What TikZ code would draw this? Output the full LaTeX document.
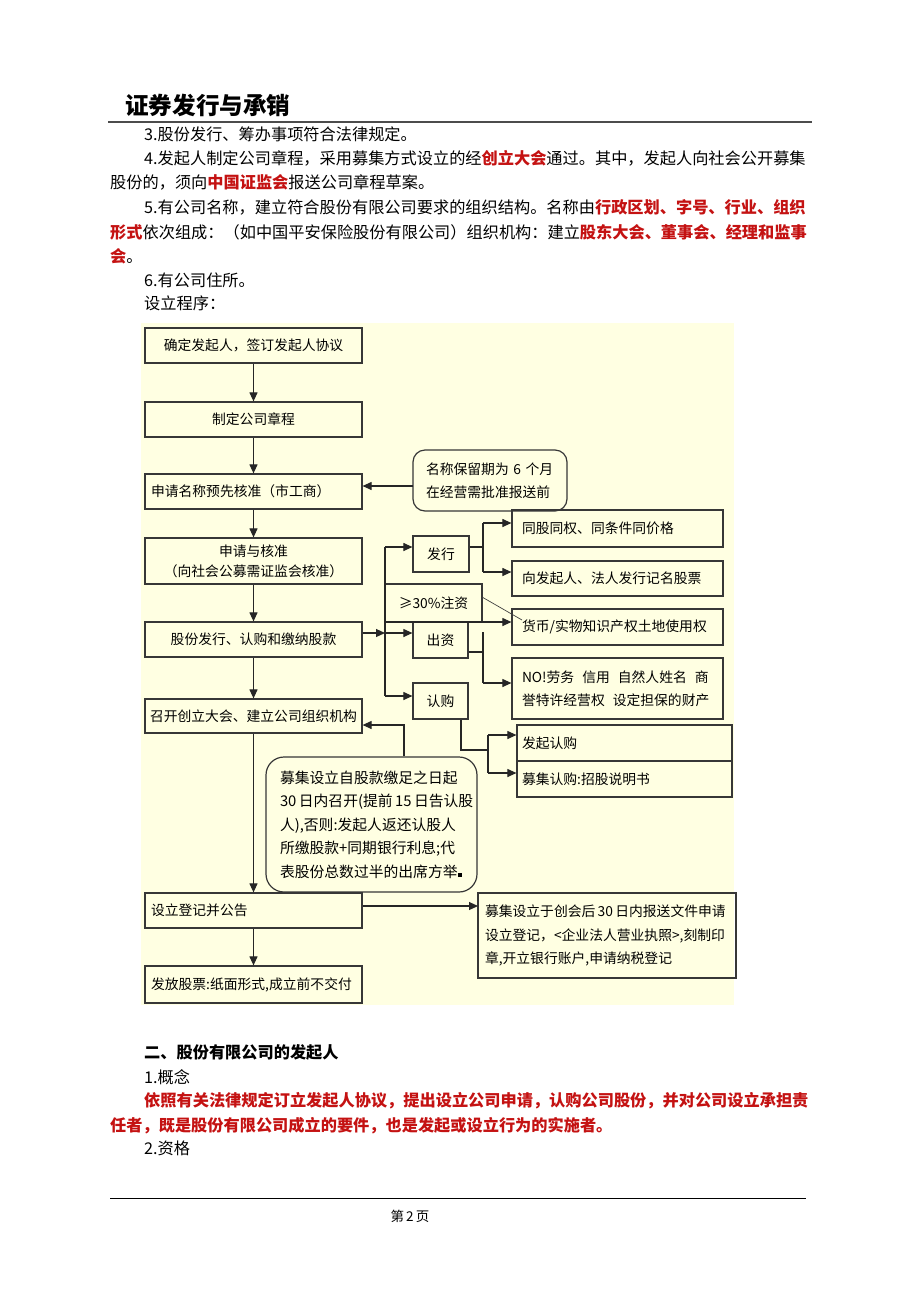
\documentclass[tikz,border=0pt]{standalone}
\usepackage{fontspec}
\setmainfont{Noto Sans CJK SC}
\usetikzlibrary{arrows.meta}
\definecolor{hired}{RGB}{196,18,18}
\definecolor{chartbg}{RGB}{255,255,226}
\definecolor{boxline}{RGB}{55,55,55}
\newcommand{\redbf}[1]{{\bfseries\color{hired}#1}}
\newcommand{\bodysize}{\fontsize{16.2}{16.2}\selectfont}

\begin{document}
\begin{tikzpicture}[
  x=1pt, y=-1pt,
  >={Triangle[length=9pt,width=8pt]},
  bodyline/.style={anchor=west, inner sep=0pt, font=\bodysize},
  mainbox/.style={draw=boxline, line width=1.2pt, inner xsep=6pt, inner ysep=0pt,
                  text width=205pt, minimum height=35pt, align=center,
                  font=\fontsize{13.8}{20}\selectfont},
  mainleft/.style={mainbox, align=left},
  sidebox/.style={draw=boxline, line width=1.2pt, inner xsep=10pt, inner ysep=0pt,
                  text width=191pt, minimum height=36pt, align=left,
                  font=\fontsize{13.8}{23}\selectfont},
  tagbox/.style={draw=boxline, line width=1.2pt, inner sep=0pt, minimum width=56pt,
                 minimum height=36pt, font=\fontsize{13.8}{16}\selectfont},
  notebox/.style={draw=boxline, line width=1.2pt, rounded corners=12pt, align=left,
                  inner ysep=0pt},
  arr/.style={->, line width=1.1pt, draw=black!85},
  ln/.style={line width=1.1pt, draw=black!85},
]
\useasboundingbox (0,0) rectangle (920,1302);
% ---- page header ----
\node[anchor=west, inner sep=0pt, font=\fontsize{23.6}{24}\selectfont\bfseries] (title) at (125,105) {证券发行与承销};
\draw[line width=2pt, draw=black!70] (108,122) -- (812,122);
% ---- body text ----
\node[bodyline] (p3) at (144,134) {3.股份发行、筹办事项符合法律规定。};
\node[bodyline] (p4a) at (144,158) {4.发起人制定公司章程，采用募集方式设立的经\redbf{创立大会}通过。其中，发起人向社会公开募集};
\node[bodyline] (p4b) at (110,182) {股份的，须向\redbf{中国证监会}报送公司章程草案。};
\node[bodyline] (p5a) at (144,207) {5.有公司名称，建立符合股份有限公司要求的组织结构。名称由\redbf{行政区划、字号、行业、组织}};
\node[bodyline] (p5b) at (110,232) {\redbf{形式}依次组成：（如中国平安保险股份有限公司）组织机构：建立\redbf{股东大会、董事会、经理和监事}};
\node[bodyline] (p5c) at (110,256) {\redbf{会}。};
\node[bodyline] (p6) at (144,280) {6.有公司住所。};
\node[bodyline] (steps) at (144,303) {设立程序：};
% ---- flowchart panel ----
\fill[chartbg] (141,323) rectangle (734,1005);
% ---- main column ----
\node[mainbox] (b1) at (253.5,345.5) {确定发起人，签订发起人协议};
\node[mainbox] (b2) at (253.5,419.5) {制定公司章程};
\node[mainleft] (b3) at (253.5,491.5) {申请名称预先核准（市工商）};
\node[mainbox, minimum height=46pt] (b4) at (253.5,561) {申请与核准\\（向社会公募需证监会核准）};
\node[mainbox] (b5) at (253.5,639.5) {股份发行、认购和缴纳股款};
\node[mainleft, inner xsep=5pt, text width=207pt, minimum height=34pt] (b6) at (253.5,716) {召开创立大会、建立公司组织机构};
\node[mainleft] (b7) at (253.5,910.5) {设立登记并公告};
\node[mainleft, minimum height=37pt] (b8) at (253.5,984.5) {发放股票:纸面形式,成立前不交付};
% ---- notes ----
\node[notebox, inner xsep=13pt, text width=128pt, minimum height=61pt,
      font=\fontsize{13.8}{23}\selectfont] (nm) at (490,480.5) {名称保留期为 6 个月\\在经营需批准报送前};
\node[notebox, rounded corners=18pt, inner xsep=14pt, text width=183pt, minimum height=135pt,
      font=\fontsize{14.8}{23.5}\selectfont] (rb) at (371.5,824.5)
  {募集设立自股款缴足之日起\\30\,日内召开(提前\,15\,日告认股\\人),否则:发起人返还认股人\\所缴股款+同期银行利息;代\\表股份总数过半的出席方举\rule{4pt}{4pt}};
\node[draw=boxline, line width=1.2pt, inner xsep=7pt, inner ysep=0pt, text width=244pt,
      minimum height=85pt, align=left, font=\fontsize{13.8}{23.5}\selectfont] (rr) at (607,935.5)
  {募集设立于创会后\,30\,日内报送文件申请\\设立登记，<企业法人营业执照>,刻制印\\章,开立银行账户,申请纳税登记};
% ---- issue / capital / subscribe ----
\node[tagbox] (fx) at (441,554) {发行};
\node[tagbox, minimum width=97pt, minimum height=38pt] (zz) at (433.5,603) {≥30\%注资};
\node[tagbox, minimum width=55pt] (cz) at (440.5,640) {出资};
\node[tagbox, minimum width=55pt] (rg) at (440.5,701) {认购};
\node[sidebox, minimum height=37pt] (t1) at (617.5,528.5) {同股同权、同条件同价格};
\node[sidebox, minimum height=35pt] (t2) at (617.5,578.5) {向发起人、法人发行记名股票};
\node[sidebox] (t3) at (617.5,627) {货币/实物知识产权土地使用权};
\node[sidebox, minimum height=61pt] (t4) at (617.5,688.5) {\mbox{NO!劳务\hspace{8pt}信用\hspace{8pt}自然人姓名\hspace{8pt}商}\\\mbox{誉特许经营权\hspace{8pt}设定担保的财产}};
\node[sidebox, inner xsep=5pt, text width=205pt] (s1) at (624.5,743) {发起认购};
\node[sidebox, inner xsep=5pt, text width=205pt] (s2) at (624.5,779) {募集认购:招股说明书};
% ---- main arrows ----
\draw[arr] (b1) -- (b2);
\draw[arr] (b2) -- (b3);
\draw[arr] (b3) -- (b4);
\draw[arr] (b4) -- (b5);
\draw[arr] (b5) -- (b6);
\draw[arr] (b6) -- (b7);
\draw[arr] (b7) -- (b8);
\coordinate (nmout) at (413,486);
\draw[arr] (nmout) -- (nmout -| b3.east);
% ---- trunk ----
\coordinate (trtop) at (385,547);
\coordinate (trhi) at (385,622);
\coordinate (trmid) at (385,633);
\coordinate (trbot) at (385,696);
\draw[ln] (trtop) -- (trbot);
\draw[arr] (b5.east |- trmid) -- (trmid);
\draw[arr] (trtop) -- (trtop -| fx.west);
\draw[arr] (trmid) -- (trmid -| cz.west);
\draw[arr] (trhi) -- (trhi -| t3.west);
\draw[arr] (trbot) -- (trbot -| rg.west);
% ---- branches ----
\coordinate (fxj) at (483,547);
\coordinate (fxa) at (483,523);
\coordinate (fxb) at (483,572);
\draw[ln] (fx.east |- fxj) -- (fxj);
\draw[ln] (fxa) -- (fxb);
\draw[arr] (fxa) -- (fxa -| t1.west);
\draw[arr] (fxb) -- (fxb -| t2.west);
\coordinate (czj) at (483,652);
\coordinate (cza) at (483,632);
\coordinate (czb) at (483,683);
\draw[ln] (cz.east |- czj) -- (czj);
\draw[ln] (cza) -- (czb);
\draw[arr] (czb) -- (czb -| t4.west);
\coordinate (zzp) at (482,597);
\coordinate (t3p) at (522,620);
\draw[line width=0.7pt, draw=black!75] (zzp) -- (t3p);
\coordinate (rgd) at (461,750);
\coordinate (rgj) at (488,750);
\coordinate (rga) at (488,735);
\coordinate (rgb) at (488,773);
\draw[ln] (rg.south -| rgd) -- (rgd) -- (rgj);
\draw[ln] (rga) -- (rgb);
\draw[arr] (rga) -- (rga -| s1.west);
\draw[arr] (rgb) -- (rgb -| s2.west);
\coordinate (rbup) at (404,725);
\draw[arr] (rb.north -| rbup) -- (rbup) -- (rbup -| b6.east);
\coordinate (rrin) at (478,906);
\draw[arr] (b7.east |- rrin) -- (rrin);
% ---- section two ----
\node[bodyline, font=\bodysize\bfseries] (sec2) at (144,1052) {二、股份有限公司的发起人};
\node[bodyline] (c1) at (144,1077) {1.概念};
\node[bodyline] (def1) at (144,1101) {\redbf{依照有关法律规定订立发起人协议，提出设立公司申请，认购公司股份，并对公司设立承担责}};
\node[bodyline] (def2) at (110,1126) {\redbf{任者，既是股份有限公司成立的要件，也是发起或设立行为的实施者。}};
\node[bodyline] (c2) at (144,1148) {2.资格};
% ---- footer ----
\draw[line width=1pt] (110,1198) -- (806,1198);
\node[inner sep=0pt, font=\fontsize{13.5}{14}\selectfont] (pg) at (410,1216) {第\,2\,页};
\end{tikzpicture}
\end{document}
